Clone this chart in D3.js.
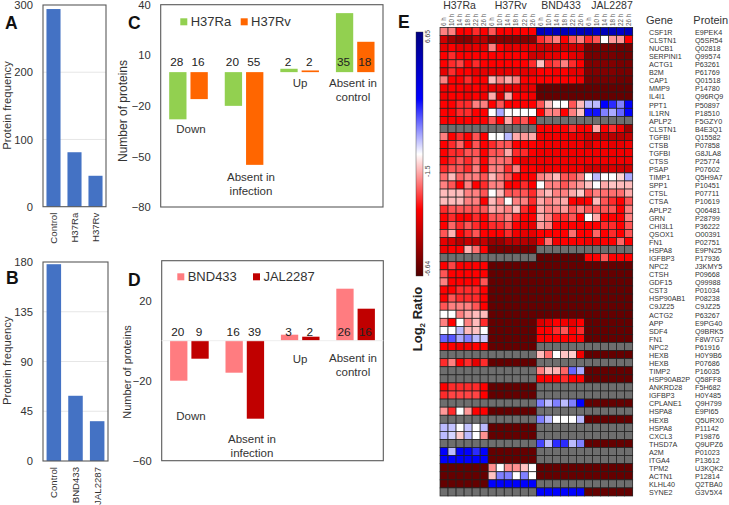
<!DOCTYPE html>
<html>
<head>
<meta charset="utf-8">
<script src="https://cdn.jsdelivr.net/npm/d3@7"></script>
<style>
    html, body { margin: 0; padding: 0; background: #fff; }
    svg { display: block; }
    text { font-family: "Liberation Sans", Arial, sans-serif; fill: #333; }
</style>
</head>
<body>
<div id="chart"></div>
<script>
// panel A / B
var freqCatsA = ["Control", "H37Ra", "H37Rv"];
var freqValsA = [294, 81, 46];
var freqTicksA = [0, 100, 200, 300];
var freqCatsB = ["Control", "BND433", "JAL2287"];
var freqValsB = [178, 59, 36];
var freqTicksB = [0, 45, 90, 135, 180];

// panel C / D
var groups = ["Down", "Absent in infection", "Up", "Absent in control"];
var seriesC = ["H37Ra", "H37Rv"];
var valsRa = [-28, -20, 2, 35];
var valsRv = [-16, -55, 1, 18];
var labelsRa = [28, 20, 2, 35];
var labelsRv = [16, 55, 2, 18];
var ticksC = [-80, -50, -20, 10, 40];
var seriesD = ["BND433", "JAL2287"];
var valsBnd = [-20, -16, 3, 26];
var valsJal = [-9, -39, 2, 16];
var labelsBnd = [20, 16, 3, 26];
var labelsJal = [9, 39, 2, 16];
var ticksD = [-60, -20, 20];

// panel E
var strains = ["H37Ra", "H37Rv", "BND433", "JAL2287"];
var times = ["6 h", "10 h", "14 h", "18 h", "22 h", "26 h"];
var genes = ["CSF1R", "CLSTN1", "NUCB1", "SERPINI1", "ACTG1", "B2M", "CAP1", "MMP9", "IL4I1", "PPT1", "IL1RN", "APLP2", "CLSTN1", "TGFBI", "CTSB", "TGFBI", "CTSS", "PSAP", "TIMP1", "SPP1", "CTSL", "CTSA", "APLP2", "GRN", "CHI3L1", "QSOX1", "FN1", "HSPA8", "IGFBP3", "NPC2", "CTSH", "GDF15", "CST3", "HSP90AB1", "C9JZ25", "ACTG2", "APP", "SDF4", "FN1", "NPC2", "HEXB", "HEXB", "TIMP2", "HSP90AB2P", "ANKRD28", "IGFBP3", "CPLANE1", "HSPA8", "HEXB", "HSPA8", "CXCL3", "THSD7A", "A2M", "ITGA4", "TPM2", "ACTN1", "KLHL40", "SYNE2"];
var proteins = ["E9PEK4", "Q5SR54", "Q02818", "Q99574", "P63261", "P61769", "Q01518", "P14780", "Q96RQ9", "P50897", "P18510", "F5GZY0", "B4E3Q1", "Q15582", "P07858", "G8JLA8", "P25774", "P07602", "Q5H9A7", "P10451", "P07711", "P10619", "Q06481", "P28799", "P36222", "O00391", "P02751", "E9PN25", "P17936", "J3KMY5", "P09668", "Q99988", "P01034", "P08238", "C9JZ25", "P63267", "E9PG40", "Q9BRK5", "F8W7G7", "P61916", "H0Y9B6", "P07686", "P16035", "Q58FF8", "F5H682", "H0Y485", "Q9H799", "E9PI65", "Q5URX0", "P11142", "P19876", "Q9UPZ6", "P01023", "P13612", "U3KQK2", "P12814", "Q2TBA0", "G3V5X4"];
var colorTicks = [6.65, -1.5, -6.64];

var N = null, D = -6.2;
var ratios = [
    [-1.5,-1.5,-3,-3,-2.5,-3, -2,-3,-3,-3,-3,-3, 5,4.6,5,5,4.6,5, 5,4.6,5,5,4.6,5],
    [-4,-5,-5.5,-5.5,-4.5,-4.5, -5.5,-5.5,-5.5,-5.5,-5.5,-5.5, -2.5,-2,-1.5,-3,-2,-1.5, -2.5,-2,0,-1.2,-1.2,-3],
    [-3.5,-3,-3.5,-3.5,-3.5,-3.5, -1.5,-3,-3.5,-3.5,-3.5,-3.5, -4,-4,-4,-4,-4,-4, -5.8,-5.8,-5.8,-5.8,-6,-6],
    [-3,-2.5,-3,-3,-3,-3, -3,-3,-3,-3,-3,-4, -4,-3.5,-3.5,-3,-3.5,-3.8, -5.8,-5.8,-5.8,-5.8,-6,-6],
    [-3,-2.5,-2.2,-3,-2.5,-3, -3,-3,-3,-3,-3,-2.5, -0.7,-2.5,-2.2,-1.5,-2.5,-3, -5.6,-5.6,-5.6,-5.6,-5.8,-5.8],
    [-3.5,-2.5,-3,-3,-3.5,-3.5, -3.5,-3.5,-3.5,-3.5,-3.5,-3.5, -3,-3,-3.2,-3,-3.5,-3.5, -5.6,-5.6,-5.6,-5.6,-5.8,-5.8],
    [-1.5,-3,-3,-2.5,-3,-3, -0.8,-1.5,-1,-1.5,-3,-3, -3,-3,-3,-3,-3,-3.3, -5.8,-5.8,-5.8,-5.8,-6,-6],
    [-3.2,-3,-3,-3.2,-3,-3.2, -3.5,-3.5,-3.5,-3.5,-3.5,-3.5, D,D,D,D,D,D, D,D,D,D,D,D],
    [-3.3,-3,-3,-3.3,-3,-3.3, -1,-3.8,-1,-3,-3,-3.3, D,D,D,D,D,D, D,D,D,D,D,D],
    [-3,-3,-2.5,-2.5,-1.5,-1.5, -3,-2,-3,-3,-3,-3, -2,-0.7,0,0,-2,-0.8, 0.8,0.8,3,2.5,1.5,3.2],
    [-3,-3,-2.5,-2.5,-3,-3, 0,1,0,0,0,0, -3,-1.5,-1.5,-3,-1.5,-0.7, 2.8,2.8,1.5,1,1.8,3],
    [-3,-3,-3,-3,-3,-3, -2,-3,-1,-2.5,-2,-3, N,N,N,N,N,N, N,N,N,N,N,N],
    [N,N,N,N,N,N, N,N,N,N,N,N, -3,-3,-3,-3,-2.5,-3, -3,-1,-3,-2.5,-3.3,-5],
    [-1.5,-3,-2.5,-3,-2,-3, 0,0,0.8,-1,-1.2,-1, -3.3,-3.3,-3.3,-3.3,-3.5,-3.5, -4,-4.3,-4.3,-4.5,-4.5,-4.3],
    [-3,-2.5,-1.8,-3,-2,-3, -2.5,-2,-2,-3,-3,-3, -3.3,-3.3,-3.3,-3.3,-3.3,-3.3, -4,-3.3,-3.3,-3.5,-3.5,-3.3],
    [-3,-2.5,-2.5,-2,-2,-3, -2,-2,-1,-2.5,-2.5,-3, -3.3,-3.3,-3.3,-3.3,-3.3,-3.3, -3.3,-3.3,-3.3,-3.3,-3.3,-3.3],
    [-3,-2.5,-2,-2.5,-1.8,-3, -1.7,-1.7,-1.8,-3,-3.5,-3.3, -3.3,-3.3,-3.3,-3.3,-3.3,-3.3, -3.3,-3.3,-3.3,-3.3,-3.3,-3.3],
    [-2.5,-2,-2,-2.5,-1.5,-3, -1.5,-1.5,-2.5,-1.5,-3,-3, -3.3,-3.3,-3.3,-3.3,-3.3,-3.3, -4,-4,-4,-3.8,-4,-4],
    [-1.7,-0.8,-1.8,-1.5,-1.5,-2, -0.8,-1.5,-2,-3,-3,-3, -1.5,-1.2,-0.8,-2,-2,-1.5, 0,0.8,0,0,-0.5,1],
    [-1.5,-2,-3,-1.5,-3,-2.5, -1.5,-1.5,-3,-3,-2.5,-3, 0,-1.5,-1.5,-2,-1.5,-1.2, -0.7,0,-1,-0.7,-0.8,-0.8],
    [-0.8,-0.8,-0.8,-1.5,-1.5,-2, 0,-0.8,-2,-2,-2,-2.5, -1.2,-0.8,-1.5,-1.5,-1,-0.6, -2,-1.5,-1.7,-1.7,-1.7,-1],
    [-0.8,-0.8,-0.8,-1.5,-1.5,-3, -0.8,-1.5,0,-1.5,-1.5,-2.5, -1,-1.5,-1.2,-1,-3,-3.3, -3,-0.8,-2,-2.5,-3,-2],
    [-2.5,-2,-2,-2,-2,-2, -1,-1.2,-1.5,-0.8,-2.5,-3, -1,-1.5,-1.5,-1.2,-2,-1.5, -2,-2,-2,-2,-3,-1.5],
    [-3,-2.5,-3,-3,-2.5,-3, -2,-2,-1.5,-2.5,-3,-3, -1,-1.5,-2.5,-2.5,-2,-3, 0,-1,-3,-3,-3,-1.5],
    [-3,-1.8,-2.5,-2,-2.5,-3, -2.5,-2.5,-2,-3,-3.3,-3.5, -1.2,-1.5,-3,-3,-3,-3, -3,-3,-2.5,-2.5,-3,-2],
    [-2,-0.9,-3,-2.5,-2,-3, -3,-3,-2.5,-3.3,-3.5,-3.5, -3,-3,-3,-3,-1.7,-3, -3,-1.8,-3,-2.5,-3,-2],
    [-3.5,-3.8,-4.5,-4.2,-4.5,-4.2, -5.2,-5.2,-4.5,-4.5,-4.5,-4.8, -3.3,-1.7,-3.3,-3,-3,-3, -3.3,-3.3,-3,-3,-1.8,-3],
    [-3.3,-3,-3,-0.9,-1.7,-3, -5.8,-5.8,-5.8,-5.8,-5.8,-5.8, N,N,N,N,N,N, N,N,N,N,N,N],
    [N,N,N,N,N,N, N,N,N,N,N,N, D,D,D,D,D,D, -3,-3,-2,-3,-3,-3],
    [-3,-2.2,-3,-3,-3,-3, D,D,D,D,D,D, D,D,D,D,D,D, D,D,D,D,D,D],
    [-2,-3,-3,-3,-3,-3, D,D,D,D,D,D, D,D,D,D,D,D, D,D,D,D,D,D],
    [-1.5,-3,-3,-3,-3,-2, D,D,D,D,D,D, D,D,D,D,D,D, D,D,D,D,D,D],
    [-3,-3,-2.5,-2.5,-2.5,-3, D,D,D,D,D,D, D,D,D,D,D,D, D,D,D,D,D,D],
    [-3,-2,-2.5,-2.5,-2.5,-3, D,D,D,D,D,D, D,D,D,D,D,D, D,D,D,D,D,D],
    [-2,-1.5,-1.5,-1.5,-2,-3, D,D,D,D,D,D, D,D,D,D,D,D, D,D,D,D,D,D],
    [0,0,-1.5,-1,-0.8,-0.8, D,D,D,D,D,D, D,D,D,D,D,D, D,D,D,D,D,D],
    [-1.5,-3,0,-1.5,-0.8,-2.5, D,D,D,D,D,D, -3.8,-3.5,-3,-3.3,-3.5,-3, D,D,D,D,D,D],
    [0,0,0.8,-0.8,-0.7,0, D,D,D,D,D,D, -3,-3,-2.5,-2,-3,-2.5, D,D,D,D,D,D],
    [1.8,2,1,1.5,0.8,0.6, D,D,D,D,D,D, -3,-3,-3,-3,-3,-3, D,D,D,D,D,D],
    [-3,-3,-3.3,-3.2,-3,-3, D,D,D,D,D,D, N,N,N,N,N,N, N,N,N,N,N,N],
    [N,N,N,N,N,N, N,N,N,N,N,N, -0.8,-1.7,0,-0.7,-0.6,-3.3, D,D,D,D,D,D],
    [-2.5,-1.5,-3,-2.5,-3.5,-2.5, D,D,D,D,D,D, N,N,N,N,N,N, N,N,N,N,N,N],
    [N,N,N,N,N,N, N,N,N,N,N,N, -1.5,-0.8,-0.9,-1.8,1.8,1, D,D,D,D,D,D],
    [N,N,N,N,N,N, N,N,N,N,N,N, -3,-3,-3,-2.5,-3,-3, D,D,D,D,D,D],
    [-3,-2.5,-2.5,-2.5,-2.5,-3, D,D,D,D,D,D, N,N,N,N,N,N, N,N,N,N,N,N],
    [-2.5,-2.2,-2.2,-2.2,-2.2,-3, D,D,D,D,D,D, N,N,N,N,N,N, N,N,N,N,N,N],
    [N,N,N,N,N,N, N,N,N,N,N,N, 1.5,0.8,1.5,0.8,1.5,3, D,D,D,D,D,D],
    [-1.2,-2.5,0,-1.2,-3,-3, D,D,D,D,D,D, N,N,N,N,N,N, N,N,N,N,N,N],
    [N,N,N,N,N,N, N,N,N,N,N,N, 1.5,0.8,0,0,0,0.8, D,D,D,D,D,D],
    [0.8,0.7,0,0.7,0,0.8, D,D,D,D,D,D, N,N,N,N,N,N, N,N,N,N,N,N],
    [0.8,0.5,-0.6,0.8,0,-1.3, D,D,D,D,D,D, N,N,N,N,N,N, N,N,N,N,N,N],
    [N,N,N,N,N,N, N,N,N,N,N,N, 2.2,0.8,2.5,2.5,0.8,1.5, D,D,D,D,D,D],
    [3,0.8,3,3,2.5,3, D,D,D,D,D,D, N,N,N,N,N,N, N,N,N,N,N,N],
    [3,3,3,3,3,3, D,D,D,D,D,D, N,N,N,N,N,N, N,N,N,N,N,N],
    [D,D,D,D,D,D, -1.3,0,-1.3,-1.3,-0.7,0, D,D,D,D,D,D, D,D,D,D,D,D],
    [D,D,D,D,D,D, -0.7,1.5,1.5,0,1.5,0, D,D,D,D,D,D, D,D,D,D,D,D],
    [D,D,D,D,D,D, 3,3,3,3,3,3, N,N,N,N,N,N, N,N,N,N,N,N],
    [N,N,N,N,N,N, N,N,N,N,N,N, 3,3,3,3,3,3, D,D,D,D,D,D]
];

var svg = d3.select("#chart").append("svg").attr("width", 729).attr("height", 505);
var BLUE = "#4472c4", FRAME = "#595959";

function panelLetter(txt, x, y) {
    svg.append("text").attr("x", x).attr("y", y).attr("font-size", 17.5)
        .attr("font-weight", "bold").style("fill", "#111").text(txt);
}

function vTitle(txt, x, y, size) {
    svg.append("text").attr("transform", "translate(" + x + "," + y + ") rotate(-90)")
        .attr("text-anchor", "middle").attr("font-size", size).text(txt);
}

function drawFrame(b) {
    svg.append("rect").attr("x", b.x0).attr("y", b.y0)
        .attr("width", b.x1 - b.x0).attr("height", b.y1 - b.y0)
        .attr("fill", "none").attr("stroke", FRAME).attr("stroke-width", 1.1);
}

function yAxisLabels(scale, ticks, right, size) {
    var g = svg.append("g").attr("transform", "translate(" + right + ",0)")
        .call(d3.axisLeft(scale).tickValues(ticks).tickSize(0).tickPadding(0));
    g.select(".domain").remove();
    g.selectAll("text").attr("font-size", size).attr("font-family", null).style("fill", "#333");
}

// A, B: protein frequency bars
function freqChart(b, cats, vals, ticks) {
    var x = d3.scaleBand().domain(cats).range([b.x0, b.x1]).paddingInner(0.33).paddingOuter(0.165);
    var y = d3.scaleLinear().domain([0, ticks[ticks.length - 1]]).range([b.y1, b.y0]);

    svg.append("g").selectAll("line").data(ticks.slice(1, -1)).enter().append("line")
        .attr("x1", b.x0).attr("x2", b.x1)
        .attr("y1", function (d) { return y(d); })
        .attr("y2", function (d) { return y(d); })
        .attr("stroke", "#e6e6e6");

    svg.append("g").selectAll("rect").data(vals).enter().append("rect")
        .attr("x", function (d, i) { return x(cats[i]); })
        .attr("y", function (d) { return y(d); })
        .attr("width", x.bandwidth())
        .attr("height", function (d) { return y(0) - y(d); })
        .attr("fill", BLUE);

    drawFrame(b);
    yAxisLabels(y, ticks, 33, 11.2);

    svg.append("g").selectAll("text").data(cats).enter().append("text")
        .attr("transform", function (d) {
            return "translate(" + (x(d) + x.bandwidth() / 2 + 3.5) + "," + (b.y1 + 6) + ") rotate(-90)";
        })
        .attr("text-anchor", "end")
        .attr("font-size", 9.6)
        .text(function (d) { return d; });
}

// C, D: paired up/down bars
function pairChart(b, yDomain, ticks, series, colors, vals, labels, labelY, legendX, legendY, catPos) {
    var x0 = d3.scaleBand().domain(groups).range([b.x0, b.x1]);
    var x1 = d3.scaleBand().domain(series).range([x0.bandwidth() / 2 - 19.3, x0.bandwidth() / 2 + 19.3]).paddingInner(0.187);
    var y = d3.scaleLinear().domain(yDomain).range([b.y1, b.y0]);

    series.forEach(function (s, k) {
        var g = svg.append("g");
        g.selectAll("rect").data(vals[k]).enter().append("rect")
            .attr("x", function (d, i) { return x0(groups[i]) + x1(s); })
            .attr("y", function (d) { return y(Math.max(d, 0)); })
            .attr("width", x1.bandwidth())
            .attr("height", function (d) { return Math.abs(y(d) - y(0)); })
            .attr("fill", colors[k]);
        g.selectAll("text").data(labels[k]).enter().append("text")
            .attr("x", function (d, i) { return x0(groups[i]) + x1(s) + x1.bandwidth() / 2 - 1; })
            .attr("y", labelY)
            .attr("text-anchor", "middle")
            .attr("font-size", 11.8)
            .style("fill", "#222")
            .text(function (d) { return d; });

        // legend
        svg.append("rect").attr("x", legendX[k]).attr("y", legendY - 3.4).attr("width", 7).attr("height", 7).attr("fill", colors[k]);
        svg.append("text").attr("x", legendX[k] + 10.4).attr("y", legendY + 4.7).attr("font-size", 13).text(s);
    });

    drawFrame(b);
    yAxisLabels(y, ticks, b.x0 - 10, 11.2);

    catPos.forEach(function (c) {
        svg.append("text").attr("x", c[1]).attr("y", c[2]).attr("text-anchor", "middle")
            .attr("font-size", 11.5).text(c[0]);
    });
    return y;
}

panelLetter("A", 5, 29);
panelLetter("B", 6, 284);
panelLetter("C", 128, 29);
panelLetter("D", 128, 286);
panelLetter("E", 398, 28);

vTitle("Protein frequency", 10.5, 105.5, 11.3);
vTitle("Protein frequency", 10.5, 360.7, 11.3);
vTitle("Number of proteins", 127, 111, 12);
vTitle("Number of proteins", 131, 372, 11);

freqChart({ x0: 43, x1: 106, y0: 5, y1: 206.7 }, freqCatsA, freqValsA, freqTicksA);
freqChart({ x0: 43, x1: 108, y0: 262, y1: 461 }, freqCatsB, freqValsB, freqTicksB);

pairChart({ x0: 160.7, x1: 383, y0: 4.7, y1: 207 }, [-80, 40], ticksC, seriesC, ["#92d050", "#ff6600"],
    [valsRa, valsRv], [labelsRa, labelsRv], 66, [180.3, 240.7], 21.7,
    [["Down", 191, 133], ["Absent in", 251, 181], ["infection", 251, 195], ["Up", 300, 87], ["Absent in", 353, 87], ["control", 353, 101]]);

var yD = pairChart({ x0: 161.7, x1: 383.3, y0: 260.7, y1: 460.7 }, [-60, 40], ticksD, seriesD, ["#ff7c80", "#c00000"],
    [valsBnd, valsJal], [labelsBnd, labelsJal], 336, [177.3, 253], 276.7,
    [["Down", 191, 420], ["Absent in", 252, 443.3], ["infection", 252, 457.3], ["Up", 300, 363], ["Absent in", 353, 362.3], ["control", 353, 376]]);

// faint zero line in D
svg.append("line").attr("x1", 161.7).attr("x2", 383.3).attr("y1", yD(0)).attr("y2", yD(0)).attr("stroke", "#eeeeee");

// E: heatmap
var heat = d3.scaleLinear().domain([-6.64, -3, 0, 3, 6.65])
    .range(["#500000", "#ff0000", "#ffffff", "#0000ff", "#000080"]);
var colX = d3.scaleBand().domain(d3.range(24)).range([440, 632.7]);
var rowY = d3.scaleBand().domain(d3.range(genes.length)).range([27.5, 496]);

var cells = [];
ratios.forEach(function (row, r) {
    row.forEach(function (v, c) {
        cells.push({ r: r, c: c, v: v });
    });
});

svg.append("rect").attr("x", 440).attr("y", 27.5).attr("width", colX.range()[1] - 440).attr("height", 468.5).attr("fill", "#222");
svg.append("g").selectAll("rect").data(cells).enter().append("rect")
    .attr("x", function (d) { return colX(d.c); })
    .attr("y", function (d) { return rowY(d.r); })
    .attr("width", colX.bandwidth())
    .attr("height", rowY.bandwidth())
    .attr("fill", function (d) { return d.v === null ? "#6e6e6e" : heat(d.v); })
    .attr("stroke", "#222")
    .attr("stroke-width", 0.7);

// strain headers and time labels
var strainX = [459.5, 510.7, 561, 612];
svg.append("g").selectAll("text").data(strains).enter().append("text")
    .attr("x", function (d, i) { return strainX[i]; })
    .attr("y", 9)
    .attr("text-anchor", "middle")
    .attr("font-size", 10.5)
    .text(function (d) { return d; });

svg.append("g").selectAll("text").data(d3.range(24)).enter().append("text")
    .attr("transform", function (c) {
        return "translate(" + (colX(c) + colX.bandwidth() / 2 + 2.2) + ",26) rotate(-90)";
    })
    .attr("font-size", 6.3)
    .style("fill", "#555")
    .text(function (c) { return times[c % 6]; });

// gene / protein columns
svg.append("text").attr("x", 646).attr("y", 24.3).attr("font-size", 11).text("Gene");
svg.append("text").attr("x", 693.3).attr("y", 24.3).attr("font-size", 11).text("Protein");
svg.append("g").selectAll("text").data(genes).enter().append("text")
    .attr("x", 649)
    .attr("y", function (d, i) { return rowY(i) + rowY.bandwidth() / 2 + 3.3; })
    .attr("font-size", 7.2)
    .text(function (d) { return d; });
svg.append("g").selectAll("text").data(proteins).enter().append("text")
    .attr("x", 695)
    .attr("y", function (d, i) { return rowY(i) + rowY.bandwidth() / 2 + 3.3; })
    .attr("font-size", 7.2)
    .text(function (d) { return d; });

// colour bar
var barY = d3.scaleLinear().domain([6.65, -6.64]).range([32, 276]);
var grad = svg.append("defs").append("linearGradient").attr("id", "ratioBar")
    .attr("x1", 0).attr("x2", 0).attr("y1", 0).attr("y2", 1);
grad.selectAll("stop").data(heat.domain().slice().reverse()).enter().append("stop")
    .attr("offset", function (d) { return (barY(d) - 32) / 244; })
    .attr("stop-color", function (d) { return heat(d); });
svg.append("rect").attr("x", 416).attr("y", 32).attr("width", 7).attr("height", 244)
    .attr("fill", "url(#ratioBar)").attr("stroke", "#333").attr("stroke-width", 0.4);

var barLabelY = [43, 177, 276];
svg.append("g").selectAll("text").data(colorTicks).enter().append("text")
    .attr("transform", function (d, i) { return "translate(430," + barLabelY[i] + ") rotate(-90)"; })
    .attr("font-size", 6.7)
    .style("fill", "#444")
    .text(function (d) { return d; });

var logTitle = svg.append("text").attr("transform", "translate(422,319) rotate(-90)")
    .attr("text-anchor", "middle").attr("font-size", 13).attr("font-weight", "bold").style("fill", "#222");
logTitle.append("tspan").text("Log");
logTitle.append("tspan").attr("font-size", 8).attr("dy", 3).text("2");
logTitle.append("tspan").attr("dy", -3).text(" Ratio");
</script>
</body>
</html>
